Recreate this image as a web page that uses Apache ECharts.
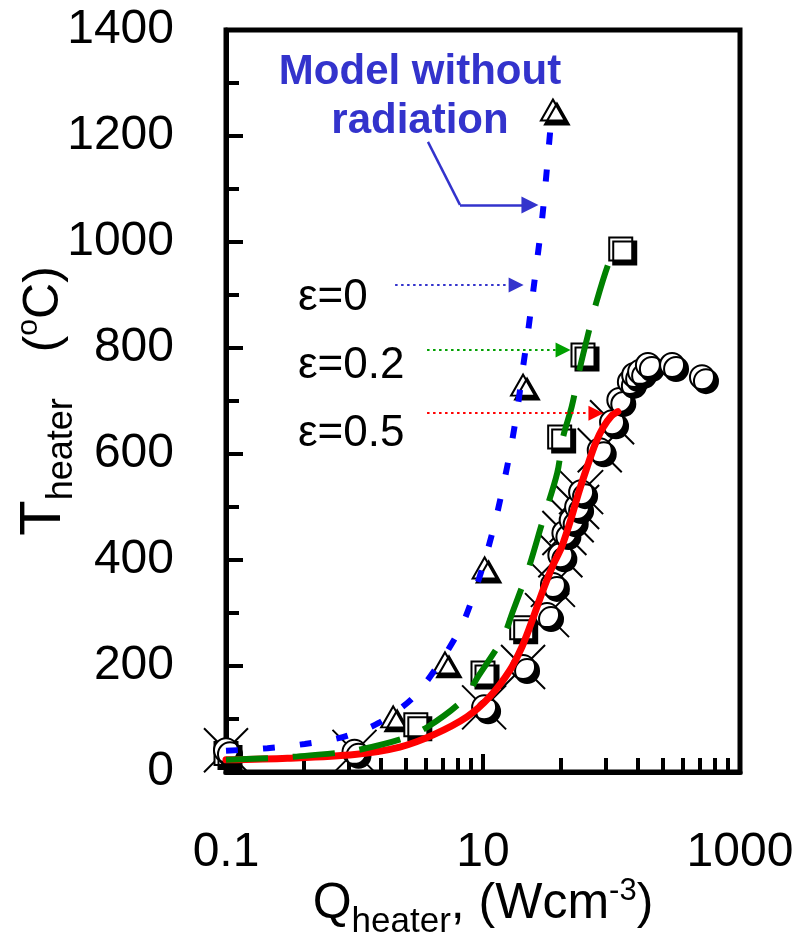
<!DOCTYPE html>
<html><head><meta charset="utf-8">
<script src="https://cdn.jsdelivr.net/npm/echarts@6/dist/echarts.min.js"></script>
<style>html,body{margin:0;padding:0;background:#fff}#c{width:801px;height:945px}</style>
</head><body><div id="c"></div>
<script>
// ---- tick values ----
const xMajorTicks = [0.1, 10, 1000];
const xMinorTicks = [0.4, 0.9, 1.6, 2.5, 3.6, 4.9, 6.4, 8.1, 40, 90, 160, 250, 360, 490, 640, 810];
const yMin = 0, yMax = 1400, yStep = 200;

// ---- model curves ----
const e0Q = [0.1, 0.21, 0.41, 0.81, 1.53, 2.85, 4.6, 6.8, 8.7, 10.7, 12.8, 14.8, 16.8, 18.7, 20.5, 22.4, 24.5, 26.5, 28.8, 30.7, 32.5, 34.5];
const e0T = [40, 45, 53, 66, 92, 140, 206, 275, 343, 413, 485, 555, 623, 692, 764, 830, 904, 970, 1042, 1111, 1179, 1250];

const e02Q = [0.1, 0.3, 0.73, 1.0, 2.3, 3.7, 7.0, 9.1, 14.3, 17, 22.4, 29, 37.8, 42, 49, 57, 65, 77, 97, 110, 118];
const e02T = [23, 28, 36, 40, 62, 85, 136, 179, 253, 302, 381, 472, 564, 632, 689, 764, 821, 890, 966, 988, 992];

const e05Q = [0.1, 0.3, 1.0, 2.25, 4.1, 7.5, 11.3, 16.2, 20, 23, 29.3, 35, 41, 48, 56, 64.5, 75, 86, 100, 112];
const e05T = [23, 26, 33, 47, 70, 104, 142, 192, 235, 272, 343, 390, 425, 475, 530, 575, 620, 650, 672, 680];

// ---- measured points ----
const triQ = [2.0, 5.06, 10.3, 20.5, 35];
const triT = [104, 206, 385, 730, 1249];

const sqQ = [0.1, 3.0, 10, 20, 39.5, 60, 118];
const sqT = [35, 89, 187, 272, 632, 787, 987];

const cirQ = [0.1, 1, 10.2, 20.5, 31.5, 35, 40, 43, 49, 54, 58, 81, 101, 115, 139, 150, 167, 192, 296, 506];
const cirT = [41, 38, 122, 198, 296, 353, 409, 451, 475, 500, 528, 607, 660, 702, 736, 749, 755, 768, 768, 745];

const crossQ = [0.1, 1, 10.2, 20.5, 31.5, 35, 40, 43, 49, 54, 58, 81, 101];
const crossT = [41, 38, 122, 198, 296, 353, 409, 451, 475, 500, 528, 607, 660];

// ---- annotation arrows (data space) ----
const arrowModel = [[3.73, 1189], [6.62, 1070], [23.2, 1070]];
const arrowE0 = [[2.07, 919], [18.1, 919]];
const arrowE02 = [[3.67, 796], [42.0, 796]];
const arrowE05 = [[3.67, 677], [75.7, 677]];

const zip = (a, b) => a.map((v, i) => [v, b[i]]);
const FONT = '"Liberation Sans", Arial, sans-serif';

const markerStyle = {
  color: '#fff', borderColor: '#000', borderWidth: 2, opacity: 1,
  shadowColor: '#000', shadowOffsetX: 4, shadowOffsetY: 4, shadowBlur: 0
};

const chart = echarts.init(document.getElementById('c'), null, {renderer: 'canvas'});
chart.setOption({
  animation: false,
  backgroundColor: '#fff',
  grid: {left: 226, right: 61, top: 30, bottom: 173, show: true, borderColor: '#000', borderWidth: 5,
         containLabel: false, outerBoundsMode: 'none'},
  xAxis: [{
    type: 'log', logBase: 10, min: 0.1, max: 1000, position: 'bottom',
    axisLine: {show: true, lineStyle: {color: '#000', width: 5}},
    axisTick: {show: true, inside: true, length: 18, lineStyle: {color: '#000', width: 4}, customValues: xMajorTicks},
    axisLabel: {customValues: xMajorTicks, formatter: v => String(v), fontSize: 48, fontFamily: FONT, color: '#000', margin: 57},
    splitLine: {show: false}, minorTick: {show: false},
    name: '{m|Q}{s|heater}{m|, (Wcm}{p|-3}{m|)}',
    nameLocation: 'middle', nameGap: 104, nameMoveOverlap: false,
    nameTextStyle: {
      rich: {
        m: {fontSize: 50, fontFamily: FONT, color: '#000', lineHeight: 56},
        s: {fontSize: 35, fontFamily: FONT, color: '#000', lineHeight: 34, verticalAlign: 'bottom', padding: [0, 0, -8, 0]},
        p: {fontSize: 31, fontFamily: FONT, color: '#000', lineHeight: 30, verticalAlign: 'top'}
      }
    }
  }, {
    type: 'log', logBase: 10, min: 0.1, max: 1000, position: 'bottom',
    axisLine: {show: false},
    axisTick: {show: true, inside: true, length: 14, lineStyle: {color: '#000', width: 4}, customValues: xMinorTicks},
    axisLabel: {show: false}, splitLine: {show: false}
  }],
  yAxis: {
    type: 'value', min: yMin, max: yMax, interval: yStep,
    axisLine: {show: true, lineStyle: {color: '#000', width: 5}},
    axisTick: {show: true, inside: true, length: 17, lineStyle: {color: '#000', width: 4}},
    minorTick: {show: true, splitNumber: 2, length: 13, lineStyle: {color: '#000', width: 4}},
    axisLabel: {formatter: v => String(v), fontSize: 48, fontFamily: FONT, color: '#000', margin: 52},
    splitLine: {show: false}, minorSplitLine: {show: false},
    name: '{t|T}{s|heater}{g|}{m|(}{p|o}{m|C)}',
    nameLocation: 'middle', nameGap: 152, nameRotate: 90, nameMoveOverlap: false,
    nameTextStyle: {
      rich: {
        t: {fontSize: 58, fontFamily: FONT, color: '#000', lineHeight: 60},
        m: {fontSize: 50, fontFamily: FONT, color: '#000', lineHeight: 60},
        s: {fontSize: 36, fontFamily: FONT, color: '#000', lineHeight: 36, verticalAlign: 'bottom', padding: [0, 0, -6, 0]},
        g: {width: 46},
        p: {fontSize: 30, fontFamily: FONT, color: '#000', lineHeight: 30, verticalAlign: 'top'}
      }
    }
  },
  series: [
    {type: 'scatter', silent: true, data: zip(crossQ, crossT), symbol: 'path://M0,0L10,10M10,0L0,10', symbolSize: 44,
     itemStyle: {color: 'none', borderColor: '#000', borderWidth: 2, opacity: 1}},
    {type: 'scatter', silent: true, data: zip(triQ, triT), symbol: 'triangle', symbolSize: [24, 21], itemStyle: markerStyle},
    {type: 'scatter', silent: true, data: zip(sqQ, sqT), symbol: 'rect', symbolSize: 23, itemStyle: markerStyle},
    {type: 'scatter', silent: true, data: zip(cirQ, cirT), symbol: 'circle', symbolSize: 24, itemStyle: markerStyle},
    {type: 'line', silent: true, data: zip(e0Q, e0T), showSymbol: false, smooth: 0.3,
     lineStyle: {color: '#0000ff', width: 6, type: [12, 25], cap: 'butt'}},
    {type: 'line', silent: true, data: zip(e05Q, e05T), showSymbol: false, smooth: 0.3,
     lineStyle: {color: '#ff0000', width: 7, cap: 'round'}},
    {type: 'line', silent: true, data: zip(e02Q, e02T), showSymbol: false, smooth: 0.3,
     lineStyle: {color: '#008000', width: 6, type: [42, 25], cap: 'butt'}},
    {type: 'line', silent: true, data: [],
     markLine: {
       silent: true, animation: false, symbol: ['none', 'triangle'], symbolSize: 15,
       label: {show: false},
       data: [
         [{coord: arrowModel[0], symbol: 'none', lineStyle: {color: '#3333cc', width: 2.5, type: 'solid'}}, {coord: arrowModel[1], symbol: 'none'}],
         [{coord: arrowModel[1], symbol: 'none', lineStyle: {color: '#3333cc', width: 2.5, type: 'solid'}, itemStyle: {color: '#3333cc'}}, {coord: arrowModel[2], symbol: 'triangle', symbolSize: [17, 17]}],
         [{coord: arrowE0[0], symbol: 'none', lineStyle: {color: '#3333cc', width: 2, type: [2.5, 3.5]}, itemStyle: {color: '#3333cc'}}, {coord: arrowE0[1], symbol: 'triangle', symbolSize: [15, 15]}],
         [{coord: arrowE02[0], symbol: 'none', lineStyle: {color: '#00a000', width: 2, type: [2.5, 3.5]}, itemStyle: {color: '#00a000'}}, {coord: arrowE02[1], symbol: 'triangle', symbolSize: [15, 15]}],
         [{coord: arrowE05[0], symbol: 'none', lineStyle: {color: '#ff0000', width: 2, type: [2.5, 3.5]}, itemStyle: {color: '#ff0000'}}, {coord: arrowE05[1], symbol: 'triangle', symbolSize: [15, 15]}]
       ]
     }}
  ],
  graphic: [
    {type: 'text', x: 420, y: 97, silent: true,
     style: {text: 'Model without\nradiation', align: 'center', verticalAlign: 'middle', font: 'bold 42px ' + FONT, fill: '#3333cc', lineHeight: 49}},
    {type: 'text', x: 298, y: 298, silent: true, style: {text: 'ε=0', align: 'left', verticalAlign: 'middle', font: '44px ' + FONT, fill: '#000'}},
    {type: 'text', x: 298, y: 366, silent: true, style: {text: 'ε=0.2', align: 'left', verticalAlign: 'middle', font: '44px ' + FONT, fill: '#000'}},
    {type: 'text', x: 298, y: 434, silent: true, style: {text: 'ε=0.5', align: 'left', verticalAlign: 'middle', font: '44px ' + FONT, fill: '#000'}}
  ]
});
</script></body></html>
